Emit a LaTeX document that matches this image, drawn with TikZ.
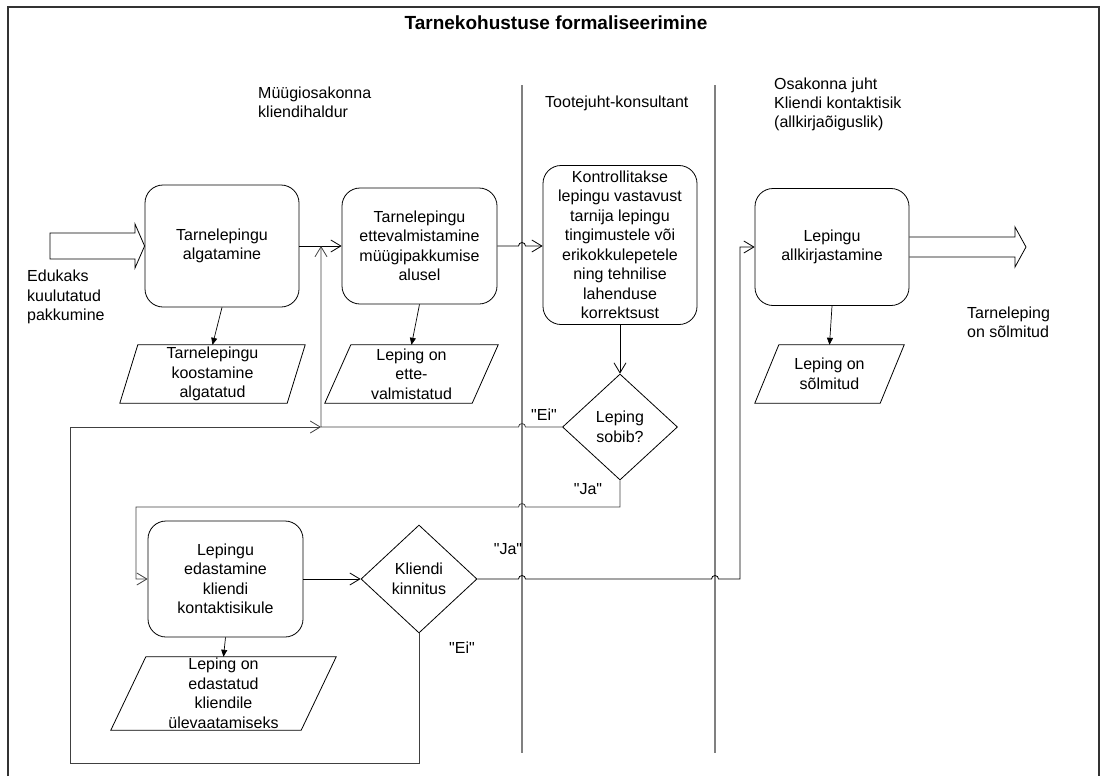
\documentclass[tikz,border=0pt]{standalone}
\usepackage{fontspec}
\setmainfont{Liberation Sans}
\usetikzlibrary{arrows.meta,shapes.geometric,calc}
\newcommand{\qq}[1]{\textquotedbl#1\textquotedbl}
\begin{document}
\begin{tikzpicture}[x=1pt,y=-1pt,
  every node/.style={font=\fontsize{16}{19.5}\selectfont, inner sep=0pt, align=center},
  task/.style={draw, line width=0.8pt, rounded corners=18pt},
  decision/.style={draw, line width=0.8pt, diamond, inner sep=0pt},
  paratext/.style={inner sep=0pt},
  paraline/.style={draw, line width=0.8pt},
  lanelabel/.style={anchor=west, align=left, font=\fontsize{16}{19}\selectfont},
  conn/.style={draw, line width=0.8pt, -{Straight Barb[length=10pt,width=12pt]}},
  loopconn/.style={conn, draw=black!75},
  dataconn/.style={draw, line width=0.7pt, -{Triangle[length=7pt,width=6pt]}},
  lane/.style={draw=black!50, line width=1.5pt},
  bigarrow/.style={draw, line width=0.8pt}
]
\useasboundingbox (0,0) rectangle (1102,776);

% frame and title
\draw[line width=1.2pt, black!80] (8,776) -- (8,7) -- (1099,7) -- (1099,776);
\node[font=\bfseries\fontsize{19}{22}\selectfont] (title) at (556,23) {Tarnekohustuse formaliseerimine};

% swimlane separators
\coordinate (L1) at (522,85);
\coordinate (L1e) at (522,753);
\coordinate (L2) at (715,85);
\coordinate (L2e) at (715,753);
\draw[lane] (L1) -- (L1e);
\draw[lane] (L2) -- (L2e);

% lane headings
\node[lanelabel] (lane1) at (258,102) {Müügiosakonna\\kliendihaldur};
\node[lanelabel] (lane2) at (545,103) {Tootejuht-konsultant};
\node[lanelabel] (lane3) at (774,104) {Osakonna juht\\Kliendi kontaktisik\\(allkirjaõiguslik)};

% process steps
\node[task, minimum width=154pt, minimum height=122pt] (b1) at (222,246) {Tarnelepingu\\algatamine};
\node[task, minimum width=155pt, minimum height=116pt] (b2) at (419.5,246) {Tarnelepingu\\ettevalmistamine\\müügipakkumise\\alusel};
\node[task, minimum width=154pt, minimum height=159pt] (b3) at (620,245) {Kontrollitakse\\lepingu vastavust\\tarnija lepingu\\tingimustele või\\erikokkulepetele\\ning tehnilise\\lahenduse\\korrektsust};
\node[task, minimum width=155pt, minimum height=116pt] (b4) at (225.5,579) {Lepingu\\edastamine\\kliendi\\kontaktisikule};
\node[task, minimum width=154pt, minimum height=117pt] (b5) at (832,247) {Lepingu\\allkirjastamine};

% decisions
\node[decision, minimum width=115pt, minimum height=106pt] (d1) at (620,427) {Leping\\sobib?};
\node[decision, minimum width=116pt, minimum height=108pt] (d2) at (419,579) {Kliendi\\kinnitus};

% data (parallelograms)
\node[paratext, minimum width=185pt, minimum height=58pt] (p1) at (212.5,374) {Tarnelepingu\\koostamine\\algatatud};
\draw[paraline] ([xshift=18pt]p1.north west) -- (p1.north east) -- ([xshift=-18pt]p1.south east) -- (p1.south west) -- cycle;
\node[paratext, minimum width=173pt, minimum height=58pt] (p2) at (411.5,374) {Leping on\\ette-\\valmistatud};
\draw[paraline] ([xshift=26pt]p2.north west) -- (p2.north east) -- ([xshift=-26pt]p2.south east) -- (p2.south west) -- cycle;
\node[paratext, minimum width=225pt, minimum height=73pt] (p4) at (223.5,693.5) {Leping on\\edastatud\\kliendile\\ülevaatamiseks};
\draw[paraline] ([xshift=35pt]p4.north west) -- (p4.north east) -- ([xshift=-35pt]p4.south east) -- (p4.south west) -- cycle;
\node[paratext, minimum width=149pt, minimum height=58pt] (p5) at (829.5,374) {Leping on\\sõlmitud};
\draw[paraline] ([xshift=24pt]p5.north west) -- (p5.north east) -- ([xshift=-24pt]p5.south east) -- (p5.south west) -- cycle;

% start and end (block arrows)
\coordinate (inL) at (50,233);
\draw[bigarrow] (inL) -- (135,233) -- (135,224) -- (b1.west) -- (135,268) -- (135,259) -- (50,259) -- cycle;
\node[anchor=west, align=left] (start) at (27,297) {Edukaks\\kuulutatud\\pakkumine};
\coordinate (outTip) at (1026,247);
\draw[bigarrow] ([yshift=10pt]b5.east) -- (1015,237) -- (1015,227) -- (outTip) -- (1015,267) -- (1015,257) -- ([yshift=-10pt]b5.east);
\node[anchor=west, align=left] (finish) at (967,322.5) {Tarneleping\\on sõlmitud};

% junction points and corners of the return paths
\coordinate (j1) at (321,246);
\coordinate (j2) at (321,427);
\coordinate (lb) at (70,763);
\coordinate (ja1) at (136,507);
\coordinate (kk) at (740,579);

% main flow
\draw[conn] (b1.east) -- (b2.west);
\draw[conn] (b2.east) -- ($(L1|-b2.east)+(-3.5,0)$) arc[start angle=180,end angle=0,radius=3.5pt] -- (b3.west|-b2.east);
\draw[conn] (b3.south) -- (d1.north);
\draw[conn] (b4.east) -- (d2.west);

% data outputs
\draw[dataconn] (b1.south) -- (p1.north);
\draw[dataconn] (b2.south) -- (p2.north);
\draw[dataconn] (b4.south) -- (p4.north);
\draw[dataconn] (b5.south) -- (p5.north);

% "Ei" from the contract check back to preparation
\draw[loopconn] (d1.west) -- ($(L1|-d1.west)+(3.5,0)$) arc[start angle=0,end angle=180,radius=3.5pt] -- (j2) -- (j1);
\node (ei1) at (544,415) {\qq{Ei}};

% "Ja" from the contract check to forwarding
\draw[loopconn] (d1.south) -- (d1.south|-ja1) -- ($(L1|-ja1)+(3.5,0)$) arc[start angle=0,end angle=180,radius=3.5pt] -- (ja1) |- (b4.west);
\node (ja1l) at (588,489) {\qq{Ja}};

% "Ei" from client confirmation back to the start
\draw[loopconn] (d2.south) |- (lb) |- (j2);
\node (ei2) at (462,648) {\qq{Ei}};

% "Ja" from client confirmation to signing
\draw[conn] (d2.east) -- ($(L1|-d2.east)+(-3.5,0)$) arc[start angle=180,end angle=0,radius=3.5pt]
  -- ($(L2|-d2.east)+(-3.5,0)$) arc[start angle=180,end angle=0,radius=3.5pt] -- (kk) |- (b5.west);
\node (ja2l) at (508,549) {\qq{Ja}};

\end{tikzpicture}
\end{document}
